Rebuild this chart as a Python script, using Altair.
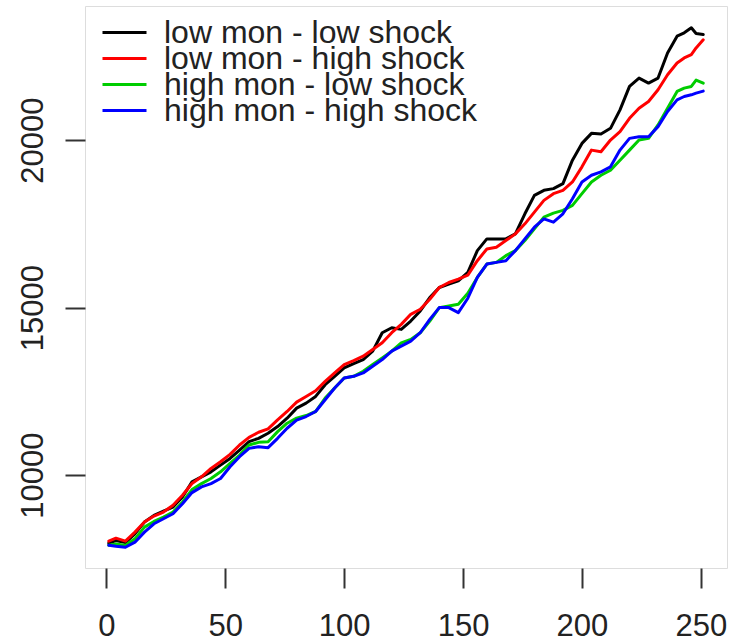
import altair as alt
import pandas as pd

# ---- data ----
t = [1, 4, 8, 12, 16, 20, 24, 28, 32, 36, 40, 44, 48, 52, 56, 60, 64, 68, 72, 76,
     80, 84, 88, 92, 96, 100, 104, 108, 112, 116, 120, 124, 128, 132, 136, 140,
     144, 148, 152, 156, 160, 164, 168, 172, 176, 180, 184, 188, 192, 196, 200,
     204, 208, 212, 216, 220, 224, 228, 232, 236, 240, 243, 246, 248, 251]

low_low = [7970, 8050, 7990, 8250, 8600, 8800, 8930, 9050, 9350, 9800, 9950, 10100,
           10300, 10500, 10750, 11000, 11100, 11250, 11450, 11700, 12000, 12150,
           12350, 12700, 12950, 13200, 13330, 13450, 13700, 14250, 14400, 14350,
           14600, 14900, 15300, 15600, 15700, 15800, 16050, 16700, 17050, 17050,
           17050, 17200, 17800, 18350, 18500, 18550, 18700, 19400, 19900, 20200,
           20180, 20350, 20900, 21600, 21850, 21700, 21850, 22600, 23100, 23200,
           23350, 23180, 23150]

low_high = [8030, 8120, 8030, 8300, 8600, 8780, 8900, 9100, 9400, 9750, 9950, 10200,
            10400, 10620, 10900, 11130, 11280, 11380, 11650, 11900, 12180, 12350,
            12520, 12800, 13050, 13300, 13420, 13550, 13750, 13950, 14250, 14500,
            14800, 14950, 15250, 15600, 15750, 15850, 15970, 16400, 16750, 16800,
            17000, 17200, 17500, 17850, 18200, 18400, 18500, 18750, 19200, 19700,
            19650, 20000, 20250, 20650, 20950, 21150, 21500, 21950, 22300, 22450,
            22550, 22750, 22990]

high_low = [7910, 7950, 7900, 8100, 8450, 8620, 8750, 8900, 9200, 9570, 9750, 9900,
            10100, 10350, 10600, 10900, 10980, 11000, 11300, 11550, 11700, 11780,
            11900, 12300, 12600, 12900, 12950, 13100, 13300, 13500, 13700, 13950,
            14050, 14250, 14600, 15000, 15050, 15100, 15430, 15900, 16300, 16350,
            16550, 16700, 17000, 17350, 17700, 17820, 17900, 18050, 18400, 18750,
            18950, 19100, 19400, 19700, 20000, 20050, 20450, 20950, 21450, 21550,
            21600, 21790, 21700]

high_high = [7910, 7880, 7850, 8000, 8300, 8550, 8700, 8850, 9150, 9480, 9650, 9750,
             9900, 10250, 10550, 10800, 10850, 10820, 11100, 11400, 11640, 11750,
             11900, 12250, 12600, 12900, 12950, 13050, 13250, 13450, 13700, 13850,
             14000, 14250, 14650, 15000, 15000, 14850, 15280, 15900, 16300, 16350,
             16400, 16700, 17050, 17400, 17650, 17550, 17800, 18250, 18750, 18950,
             19050, 19200, 19700, 20050, 20100, 20100, 20400, 20850, 21200, 21300,
             21350, 21400, 21460]

names = ["low mon - low shock", "low mon - high shock",
         "high mon - low shock", "high mon - high shock"]
colors = ["#000000", "#FF0000", "#00CD00", "#0000FF"]
x_ticks = [0, 50, 100, 150, 200, 250]
y_ticks = [10000, 15000, 20000]

rows = []
for name, vals in zip(names, [low_low, low_high, high_low, high_high]):
    for ti, v in zip(t, vals):
        rows.append({"t": ti, "value": v, "series": name})
df = pd.DataFrame(rows)

FONT = "Liberation Sans"

x_enc = alt.X(
    "t:Q",
    scale=alt.Scale(domain=[-9, 261], nice=False, zero=False),
    axis=alt.Axis(values=x_ticks, title=None, grid=False, domain=False,
                  tickSize=20, tickWidth=2, tickColor="#333333",
                  labelFont=FONT, labelFontSize=31, labelColor="#222222",
                  labelPadding=47, labelBaseline="alphabetic",
                  labelFlush=False, labelOverlap=False, format="d"),
)
y_enc = alt.Y(
    "value:Q",
    scale=alt.Scale(domain=[7230, 24000], nice=False, zero=False),
    axis=alt.Axis(values=y_ticks, title=None, grid=False, domain=False,
                  tickSize=20, tickWidth=2, tickColor="#333333",
                  labelFont=FONT, labelFontSize=31, labelColor="#222222",
                  labelAngle=270, labelAlign="center", labelBaseline="alphabetic",
                  labelPadding=23, labelFlush=False, labelOverlap=False, format="d"),
)
color_enc = alt.Color(
    "series:N",
    scale=alt.Scale(domain=names, range=colors),
    legend=alt.Legend(orient="none", legendX=16, legendY=17, title=None,
                      symbolType="stroke", symbolSize=1936, symbolStrokeWidth=3,
                      labelFont=FONT, labelFontSize=32, labelColor="#222222",
                      labelOffset=16, rowPadding=-12, clipHeight=19, padding=0,
                      labelLimit=600),
)

layers = []
for n in names:
    layers.append(
        alt.Chart(df)
        .transform_filter(alt.datum.series == n)
        .mark_line(strokeWidth=3, strokeJoin="round", strokeCap="round")
        .encode(x=x_enc, y=y_enc, color=color_enc, order="t:Q")
    )

chart = (
    alt.layer(*layers)
    .properties(width=642, height=562, autosize="none",
                padding={"left": 85, "top": 6, "right": 4, "bottom": 75})
    .configure_view(stroke="#333333", strokeWidth=2)
    .configure(background="white")
)

chart.save("out.html", embed_options={"renderer": "svg", "actions": False})
